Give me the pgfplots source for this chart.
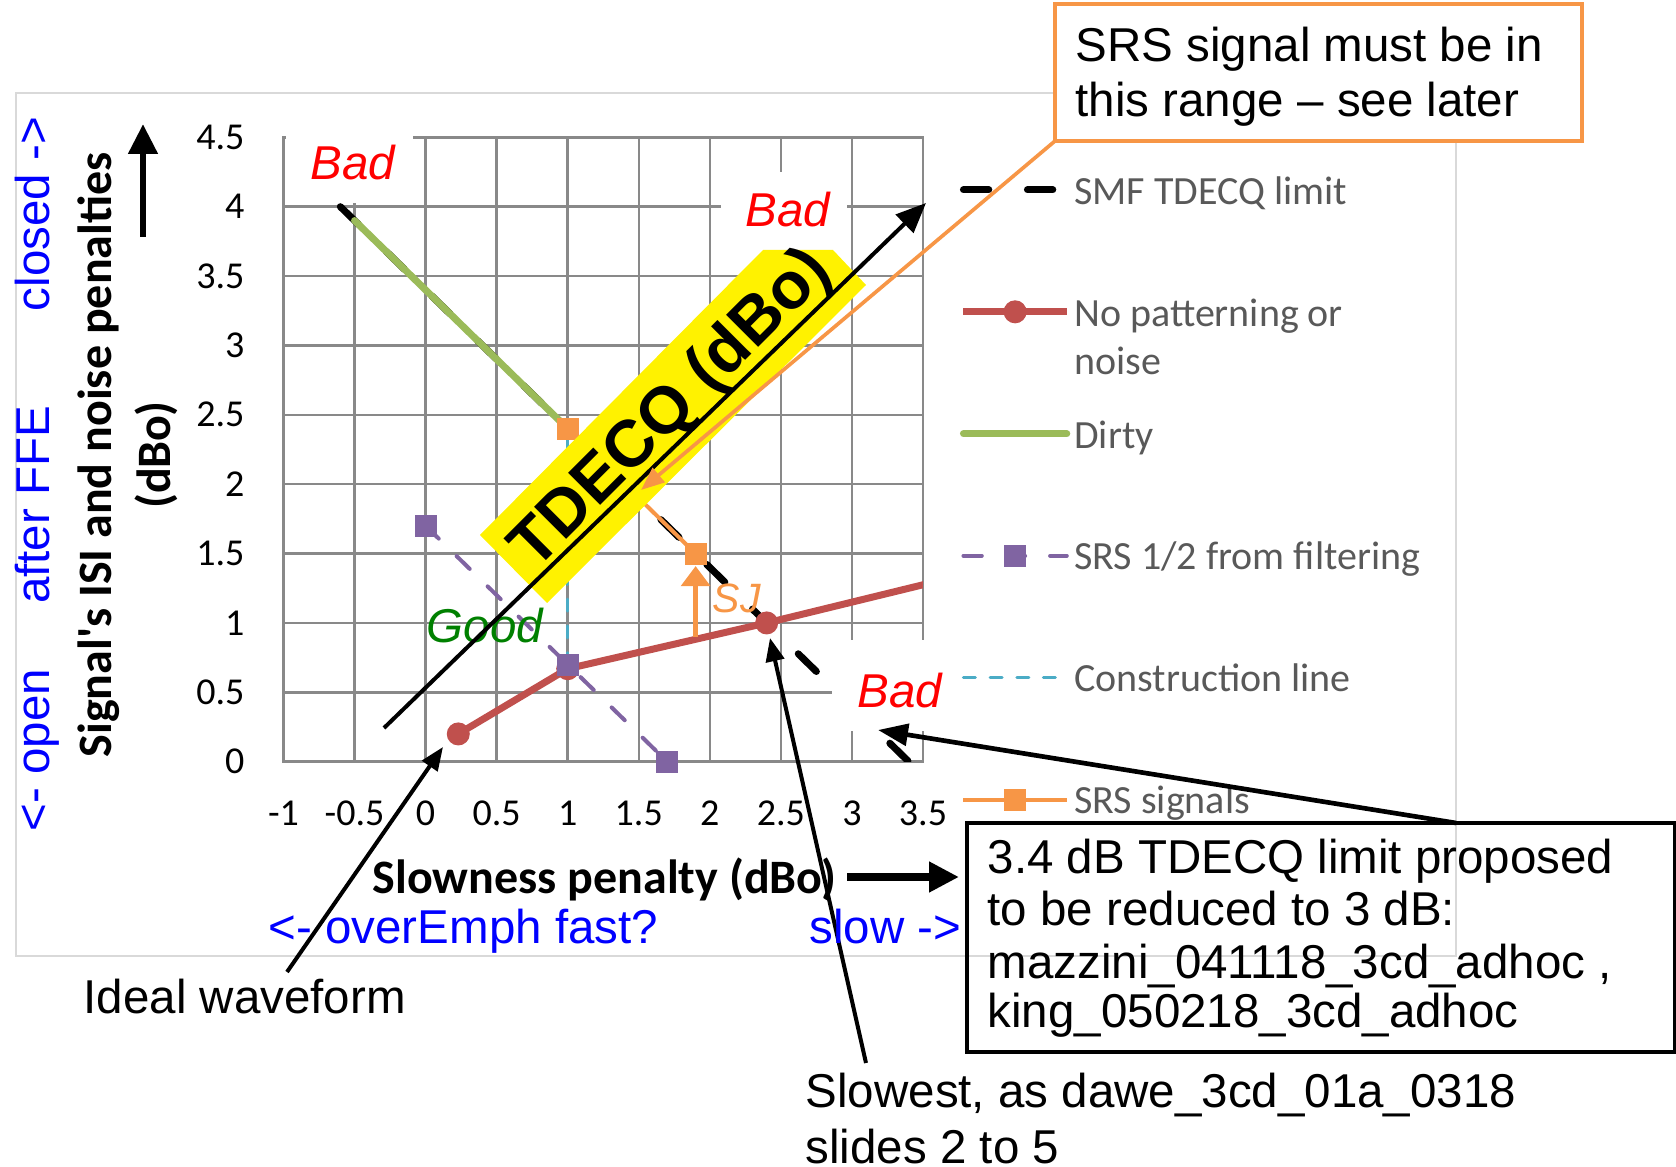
\documentclass[border=0pt]{standalone}
\usepackage{fontspec}
\setmainfont{Liberation Sans}
\newfontfamily\carlito{Carlito}
\usepackage{pgfplots}
\pgfplotsset{compat=1.18}
\usetikzlibrary{arrows.meta}
\definecolor{gridgray}{HTML}{898989}
\definecolor{framegray}{HTML}{D9D9D9}
\definecolor{redC}{HTML}{C0504D}
\definecolor{greenC}{HTML}{9BBB59}
\definecolor{purpleC}{HTML}{8064A2}
\definecolor{orangeC}{HTML}{F79646}
\definecolor{cyanC}{HTML}{4BACC6}
\definecolor{legendgray}{HTML}{595959}
\definecolor{goodgreen}{HTML}{008000}
\newcommand\arialf{\fontsize{14.25}{15.6}\selectfont}
\newcommand\calf{\carlito\fontsize{11.4}{14.4}\selectfont}
\newcommand\callf{\carlito\fontsize{12}{14.4}\selectfont}
\newcommand\calbf{\carlito\bfseries\fontsize{14.4}{16}\selectfont}

\begin{document}
\begin{tikzpicture}
\begin{scope}[x=0.3pt,y=-0.3pt,shift={(0pt,349.8pt)}]
  \draw[framegray, line width=0.75pt] (16,93) rectangle (1456,956);
\end{scope}

\begin{axis}[
  at={(85.05pt,121.29pt)}, anchor=south west,
  scale only axis, width=191.85pt, height=187.32pt,
  xmin=-1, xmax=3.5, ymin=0, ymax=4.5,
  xtick={-1,-0.5,0,0.5,1,1.5,2,2.5,3,3.5},
  xticklabels={-1,-0.5,0,0.5,1,1.5,2,2.5,3,3.5},
  ytick={0,0.5,1,1.5,2,2.5,3,3.5,4,4.5},
  yticklabels={0,0.5,1,1.5,2,2.5,3,3.5,4,4.5},
  grid=major,
  major grid style={draw=gridgray, line width=0.75pt},
  axis line style={draw=gridgray, line width=0.75pt},
  tick style={draw=none},
  major tick length=0pt,
  xticklabel style={font=\calf, anchor=center, inner sep=0pt, yshift=-15.4pt},
  yticklabel style={font=\calf, anchor=east, inner sep=0pt, xshift=-11.5pt},
  legend image code/.code={\draw[mark repeat=2,mark phase=2,#1] plot coordinates {(0pt,0pt) (15.5pt,0pt) (31pt,0pt)};},
  legend cell align=left,
  legend style={at={(1.0578,0.9467)}, anchor=north west, draw=none, fill=none,
    inner sep=0pt, outer sep=0pt, row sep=25pt,
    nodes={inner xsep=1.2pt, inner ysep=0pt, text=legendgray, font=\callf}},
]
\addplot[black, line width=2.1pt, dash pattern=on 7.6pt off 11.6pt, line cap=round]
  coordinates {(-0.6,4.0) (3.4,0.0)};
\addlegendentry{\strut SMF TDECQ limit}

\addplot[redC, line width=2.1pt, forget plot] coordinates {(2.4,1.0) (3.6,1.3)};
\addplot[redC, line width=2.1pt, mark=*, mark size=3.25pt,
  mark options={solid, fill=redC, draw=redC, line width=0.4pt}]
  coordinates {(0.23,0.2) (1.0,0.67) (2.4,1.0)};
\addlegendentry{\raisebox{0pt}[\height][\dp\strutbox]{\vtop{\hbox{\strut No patterning or}\hbox{\strut noise}}}}

\addplot[greenC, line width=2.1pt, line cap=round]
  coordinates {(-0.5,3.9) (1.0,2.4)};
\addlegendentry{\strut Dirty}

\addplot[purpleC, line width=1.2pt, dash pattern=on 5.5pt off 7.5pt, line cap=round,
  mark=square*, mark size=3.1pt, mark options={solid, fill=purpleC, draw=purpleC, line width=0.4pt}]
  coordinates {(0.0,1.7) (1.0,0.7) (1.7,0.0)};
\addlegendentry{\strut SRS 1/2 from filtering}

\addplot[cyanC, line width=0.9pt, dash pattern=on 3.6pt off 4.4pt, line cap=round]
  coordinates {(1.0,0.7) (1.0,2.4)};
\addlegendentry{\strut Construction line}

\addplot[orangeC, line width=1.2pt, mark=square*, mark size=3.1pt,
  mark options={solid, fill=orangeC, draw=orangeC, line width=0.4pt}]
  coordinates {(1.0,2.4) (1.9,1.5)};
\addlegendentry{\strut SRS signals}

\draw[orangeC, line width=1.5pt, -{Triangle[length=6pt,width=8.5pt]}]
  (axis cs:1.9,0.9) -- (axis cs:1.9,1.41);
\end{axis}

\begin{scope}[x=0.3pt,y=-0.3pt,shift={(0pt,349.8pt)}]
  % white boxes behind Bad labels
  \fill[white] (286,118) rectangle (413,203);
  \fill[white] (721,172) rectangle (847,250);
  \fill[white] (832,640) rectangle (946,731);
  \node[anchor=base west, inner sep=0pt, text=red, font=\arialf\itshape] at (310,180) {Bad};
  \node[anchor=base west, inner sep=0pt, text=red, font=\arialf\itshape] at (745,227) {Bad};
  \node[anchor=base west, inner sep=0pt, text=red, font=\arialf\itshape] at (857,708) {Bad};
  \node[anchor=base west, inner sep=0pt, text=goodgreen, font=\arialf\itshape] at (426,643) {Good};
  \node[anchor=base west, inner sep=0pt, text=orangeC, font=\fontsize{12.3}{14}\selectfont\itshape] at (712,613) {SJ};
  % yellow TDECQ label
  \fill[yellow] (480,535) -- (763,250) -- (833,250) -- (866,285) -- (547,603) -- cycle;
  \node[rotate=45, inner sep=0pt, font=\bfseries\fontsize{19.8}{22}\selectfont] at (672,410) {TDECQ (dBo)};
  \draw[line width=1.2pt, -{Triangle[length=9pt,width=7.5pt]}] (384,728) -- (926,203);
  % orange callout
  \draw[orangeC, line width=1.1pt, fill=white] (1055,4) rectangle (1582,141);
  \node[anchor=base west, inner sep=0pt, font=\arialf] at (1075,62) {SRS signal must be in};
  \node[anchor=base west, inner sep=0pt, font=\arialf] at (1075,117) {this range \textendash{} see later};
  \draw[orangeC, line width=1.1pt, -{Triangle[length=7pt,width=5.5pt]}] (1055,141) -- (641,490);
  % black callout
  \draw[line width=1.2pt] (967,823) rectangle (1675,1052);
  \node[anchor=base west, inner sep=0pt, font=\arialf] at (987,873) {3.4 dB TDECQ limit proposed};
  \node[anchor=base west, inner sep=0pt, font=\arialf] at (987,925) {to be reduced to 3 dB:};
  \node[anchor=base west, inner sep=0pt, font=\arialf] at (987,978) {mazzini\_041118\_3cd\_adhoc ,};
  \node[anchor=base west, inner sep=0pt, font=\arialf] at (987,1028) {king\_050218\_3cd\_adhoc};
  \draw[line width=1.4pt, -{Triangle[length=9pt,width=6.5pt]}] (1456,823) -- (878,730);
  % slowness arrow
  \draw[line width=2.4pt, -{Triangle[length=9pt,width=8.7pt]}] (847,877) -- (959,877);
  % up arrow
  \draw[line width=2pt, -{Triangle[length=9pt,width=8.5pt]}] (143,237) -- (143,124);
  % ideal waveform
  \draw[line width=1.2pt, -{Triangle[length=7pt,width=5.5pt]}] (287,972) -- (443,747);
  \node[anchor=base west, inner sep=0pt, font=\arialf] at (83,1013) {Ideal waveform};
  % slowest
  \draw[line width=1.2pt, -{Triangle[length=7pt,width=5.5pt]}] (866,1063) -- (770,638);
  \node[anchor=base west, inner sep=0pt, font=\arialf] at (805,1107) {Slowest, as dawe\_3cd\_01a\_0318};
  \node[anchor=base west, inner sep=0pt, font=\arialf] at (805,1163) {slides 2 to 5};
  % blue side texts
  \node[rotate=90, anchor=base, inner sep=0pt, text=blue, font=\arialf] at (50,214) {closed ->};
  \node[rotate=90, anchor=base, inner sep=0pt, text=blue, font=\arialf] at (50,505) {after FFE};
  \node[rotate=90, anchor=base, inner sep=0pt, text=blue, font=\arialf] at (50,750) {<- open};
  % axis titles
  \node[rotate=90, anchor=base, inner sep=0pt, font=\calbf] at (112,455) {Signal's ISI and noise penalties};
  \node[rotate=90, anchor=base, inner sep=0pt, font=\calbf] at (171,455) {(dBo)};
  \node[anchor=base west, inner sep=0pt, font=\calbf] at (372,893) {Slowness penalty (dBo)};
  \node[anchor=base west, inner sep=0pt, text=blue, font=\arialf] at (268,943) {<- overEmph fast?};
  \node[anchor=base west, inner sep=0pt, text=blue, font=\arialf] at (809,943) {slow ->};
  \pgfresetboundingbox
  \path[use as bounding box] (0,0) rectangle (1676,1166);
\end{scope}
\end{tikzpicture}
\end{document}
